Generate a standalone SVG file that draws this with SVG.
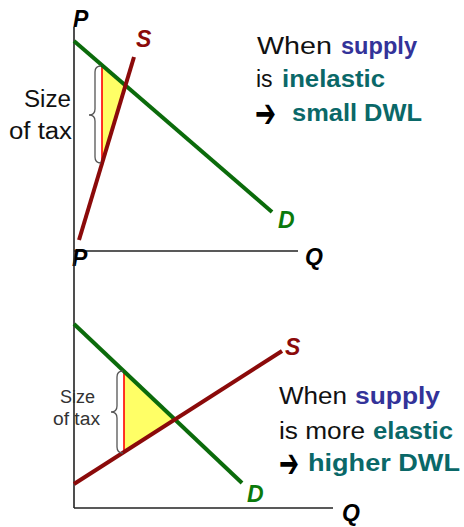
<svg xmlns="http://www.w3.org/2000/svg" width="464" height="527" viewBox="0 0 464 527">
<style>
.ax{stroke:#222;stroke-width:1.6;fill:none}
.dem{stroke:#0b6b0b;stroke-width:4;fill:none}
.sup{stroke:#8b0a0a;stroke-width:4;fill:none}
.tri{fill:#ffff66;stroke:none}
.tax{stroke:#ff0000;stroke-width:1.6}
.brace{stroke:#555;stroke-width:1.3;fill:none}
.lbl{font-family:"Liberation Sans",Arial,sans-serif;font-weight:bold;font-style:italic;font-size:23px}
.t{font-family:"Liberation Sans",Arial,sans-serif;font-size:23px;fill:#111}
.b{font-weight:bold}
.blue{fill:#333399}
.teal{fill:#0a6868}
.size2{font-family:"Liberation Sans",Arial,sans-serif;font-size:18px;fill:#333}
.arr{font-family:"DejaVu Sans",sans-serif;font-weight:bold;font-size:40px;fill:#000}
</style>

<g id="top-chart">
  <g id="top-axes">
    <line class="ax" x1="74" y1="27" x2="74" y2="251"/>
    <line class="ax" x1="74" y1="251" x2="298" y2="251"/>
  </g>
  <polygon id="top-dwl" class="tri" points="102,65.2 125.4,85.4 102,163.5"/>
  <line class="tax" x1="102" y1="65.2" x2="102" y2="163.5"/>
  <line id="top-demand" class="dem" x1="74" y1="41" x2="272" y2="212"/>
  <line id="top-supply" class="sup" x1="79" y1="240" x2="134" y2="57"/>
  <path class="brace" d="M101,66 Q95,66 95,72 L95,109 Q95,115 89,115 Q95,115 95,121 L95,157 Q95,163 101,163"/>
  <text class="t" x="71" y="107" text-anchor="end" textLength="47" lengthAdjust="spacingAndGlyphs">Size</text>
  <text class="t" x="72" y="139" text-anchor="end" textLength="63" lengthAdjust="spacingAndGlyphs">of tax</text>
  <text class="lbl" x="73" y="27" fill="#000">P</text>
  <text class="lbl" x="136" y="47" fill="#8b0a0a">S</text>
  <text class="lbl" x="278" y="228" fill="#0b7a0b">D</text>
  <text class="lbl" x="305" y="265" fill="#000">Q</text>
  <text class="lbl" x="72" y="266" fill="#000">P</text>
</g>

<g id="top-text">
  <text class="t" x="257" y="54" textLength="75" lengthAdjust="spacingAndGlyphs">When</text>
  <text class="t b blue" x="341" y="54" textLength="76" lengthAdjust="spacingAndGlyphs">supply</text>
  <text class="t" x="256" y="87">is</text>
  <text class="t b teal" x="282" y="87" textLength="103" lengthAdjust="spacingAndGlyphs">inelastic</text>
  <text class="arr" x="255" y="127" textLength="21" lengthAdjust="spacingAndGlyphs">➔</text>
  <text class="t b teal" x="292" y="121" textLength="130" lengthAdjust="spacingAndGlyphs">small DWL</text>
</g>

<g id="bottom-chart">
  <g id="bottom-axes">
    <line class="ax" x1="74" y1="251" x2="74" y2="508"/>
    <line class="ax" x1="74" y1="508" x2="333" y2="508"/>
  </g>
  <polygon id="bottom-dwl" class="tri" points="124,371.3 174.9,419.5 124,452"/>
  <line class="tax" x1="124" y1="371.3" x2="124" y2="452"/>
  <line id="bottom-demand" class="dem" x1="74" y1="324" x2="242" y2="483"/>
  <line id="bottom-supply" class="sup" x1="74" y1="484" x2="282" y2="351"/>
  <path class="brace" d="M123,371 Q117,371 117,377 L117,406 Q117,412 111,412 Q117,412 117,418 L117,447 Q117,453 123,453"/>
  <text class="size2" x="95" y="403" text-anchor="end" textLength="35" lengthAdjust="spacingAndGlyphs">Size</text>
  <text class="size2" x="100" y="425" text-anchor="end" textLength="47" lengthAdjust="spacingAndGlyphs">of tax</text>
  <text class="lbl" x="285" y="355" fill="#8b0a0a">S</text>
  <text class="lbl" x="247" y="502" fill="#0b7a0b">D</text>
  <text class="lbl" x="342" y="521" fill="#000">Q</text>
</g>

<g id="bottom-text">
  <text class="t" x="279" y="404" textLength="68" lengthAdjust="spacingAndGlyphs">When</text>
  <text class="t b blue" x="355" y="404" textLength="85" lengthAdjust="spacingAndGlyphs">supply</text>
  <text class="t" x="279" y="439" textLength="86" lengthAdjust="spacingAndGlyphs">is more</text>
  <text class="t b teal" x="373" y="439" textLength="80" lengthAdjust="spacingAndGlyphs">elastic</text>
  <text class="arr" x="279" y="477" textLength="20" lengthAdjust="spacingAndGlyphs">➔</text>
  <text class="t b teal" x="308" y="471" textLength="152" lengthAdjust="spacingAndGlyphs">higher DWL</text>
</g>
</svg>
